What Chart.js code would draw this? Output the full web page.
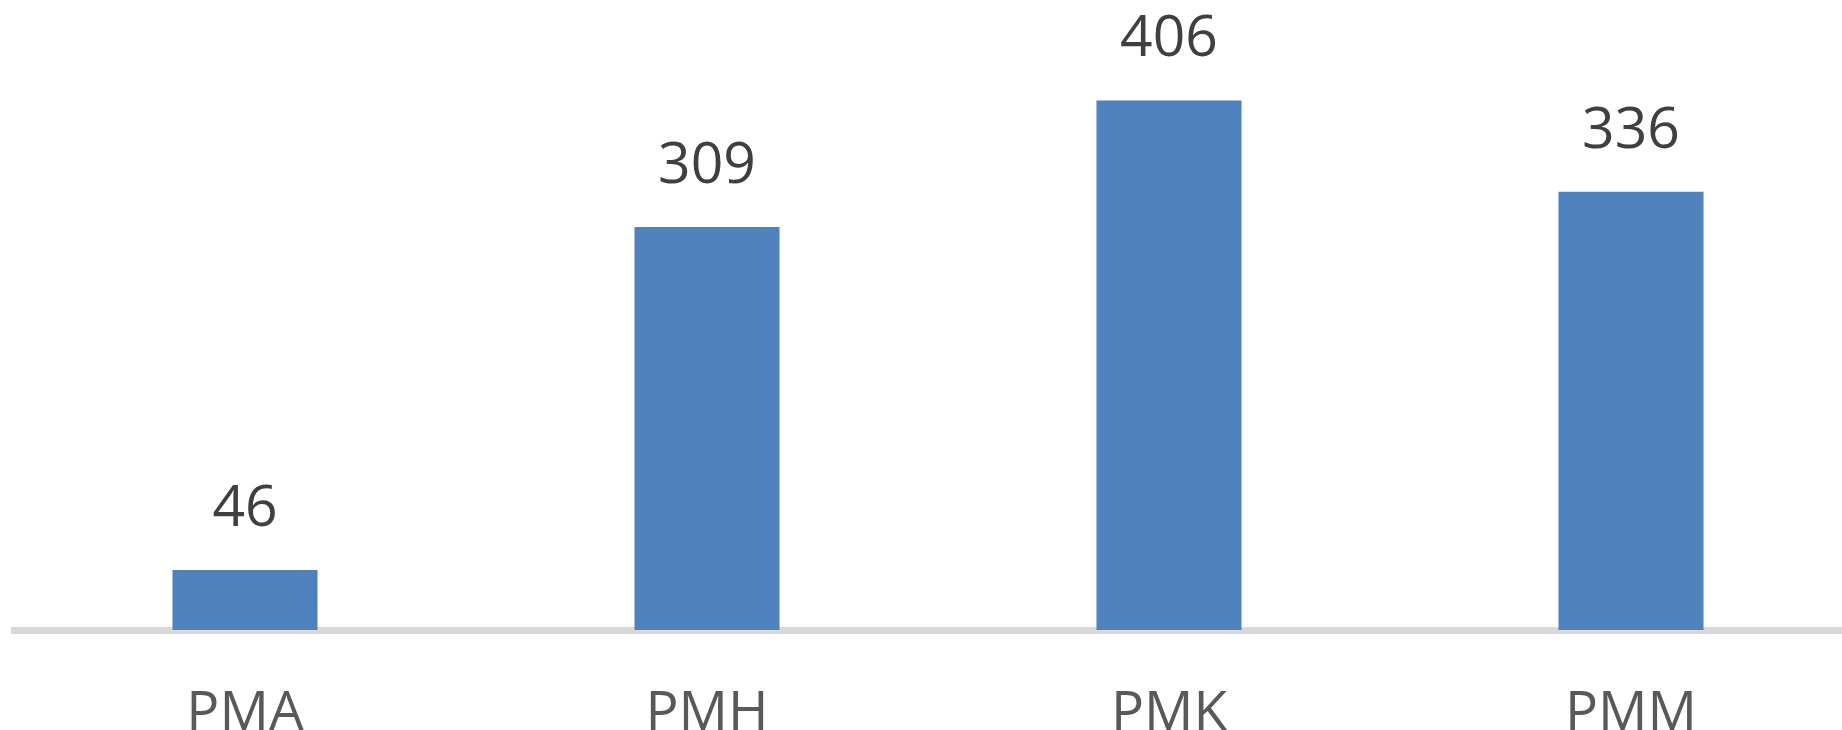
<!DOCTYPE html>
<html>
<head>
<meta charset="utf-8">
<script src="https://cdn.jsdelivr.net/npm/chart.js@4/dist/chart.umd.min.js"></script>
<style>
  html, body { margin: 0; padding: 0; background: #fff; overflow: hidden; }
  #wrap { position: absolute; left: 0; top: 0; width: 1862px; height: 798px; }
</style>
</head>
<body>
<div id="wrap"><canvas id="chart"></canvas></div>
<script>
// data
const categories = ['PMA', 'PMH', 'PMK', 'PMM'];
const counts = [46, 309, 406, 336];

const FONT = "'Open Sans', 'Segoe UI', sans-serif";

// draws the value above each bar
const valueLabels = {
    id: 'valueLabels',
    afterDatasetsDraw(chart) {
        const ctx = chart.ctx;
        const meta = chart.getDatasetMeta(0);
        ctx.save();
        ctx.font = `57px ${FONT}`;
        ctx.fillStyle = '#404040';
        ctx.textAlign = 'center';
        ctx.textBaseline = 'alphabetic';
        meta.data.forEach((bar, i) => {
            ctx.fillText(String(chart.data.datasets[0].data[i]), bar.x, bar.y - 44);
        });
        ctx.restore();
    }
};

new Chart(document.getElementById('chart'), {
    type: 'bar',
    data: {
        labels: categories,
        datasets: [{
            data: counts,
            backgroundColor: '#4f81bd',
            borderWidth: 0,
            barPercentage: 1,
            categoryPercentage: 0.314,
        }]
    },
    options: {
        responsive: true,
        maintainAspectRatio: false,
        animation: false,
        layout: { padding: { left: 14, right: 0, top: 0, bottom: 0 } },
        plugins: {
            legend: { display: false },
            tooltip: { enabled: false },
        },
        scales: {
            y: {
                display: false,
                min: 0,
                max: 483,
            },
            x: {
                grid: { display: false, drawTicks: false },
                border: { display: true, color: '#d9d9d9', width: 7 },
                ticks: {
                    color: '#595959',
                    padding: 51,
                    font: { family: FONT, size: 55 },
                }
            }
        }
    },
    plugins: [valueLabels]
});
</script>
</body>
</html>
